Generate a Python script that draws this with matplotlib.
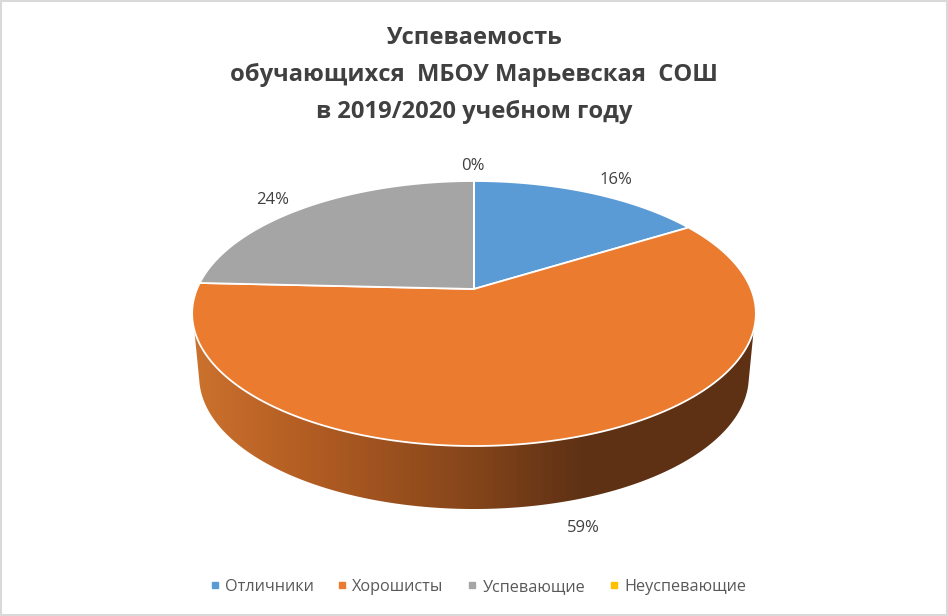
#!/usr/bin/env python3
import numpy as np
import matplotlib
matplotlib.use("Agg")
import matplotlib.pyplot as plt
from matplotlib.colors import LinearSegmentedColormap
from matplotlib.patches import Polygon, Rectangle

# data
categories = ["Отличники", "Хорошисты", "Успевающие", "Неуспевающие"]
values = [16, 59, 24, 0]
value_labels = ["16%", "59%", "24%", "0%"]
title_lines = ["Успеваемость", "обучающихся  МБОУ Марьевская  СОШ", "в 2019/2020 учебном году"]

colors = ["#5b9bd5", "#ea7b2f", "#a5a5a5", "#ffc000"]
text_color = "#595959"
title_color = "#404040"

plt.rcParams['font.family'] = ['Open Sans', 'DejaVu Sans']

fig = plt.figure(figsize=(9.48, 6.16), dpi=100)
ax = fig.add_axes([0, 0, 1, 1])
ax.axis("off")


# tilted circle -> picture, angle clockwise from the top
def rim(angle, scale=1.0, drop=0.0):
    x = np.sin(angle)
    y = np.cos(angle)
    d = 1 + 0.185 * y
    return 474 + scale * 277 * x / d, (289 - 74.5 * y) / d + drop


# side of the pie, gradient along x clipped to the band
side = LinearSegmentedColormap.from_list("side", [
    (0.0, "#cc722e"), (0.2, "#b35d23"), (0.5, "#84451a"),
    (0.62, "#6c3817"), (0.70, "#5e3114"), (1.0, "#5e3114")])
grad = ax.imshow(np.linspace(0, 1, 564).reshape(1, -1), cmap=side, aspect="auto",
                 extent=(192, 756, 520, 300), zorder=1)
t_top = np.radians(np.linspace(107.6, 252.4, 300))
t_low = np.radians(np.linspace(256, 104, 300))
band = np.vstack([np.column_stack(rim(t_top)), np.column_stack(rim(t_low, 0.975, 63))])
clip = Polygon(band, closed=True, transform=ax.transData, facecolor="none", edgecolor="none")
ax.add_patch(clip)
grad.set_clip_path(clip)

ax.set_xlim(0, 948)
ax.set_ylim(616, 0)

# top of the pie
edges = 2 * np.pi * np.cumsum([0] + values) / sum(values)
for i in range(len(values)):
    a = np.linspace(edges[i], edges[i + 1], 200)
    x, y = rim(a)
    pts = np.vstack([[474, 289], np.column_stack([x, y])])
    ax.add_patch(Polygon(pts, closed=True, facecolor=colors[i], edgecolor="white",
                         linewidth=1.3, joinstyle="round", zorder=2))

# value labels
label_pos = [(616, 179.5), (583, 527.5), (273, 199.5), (473, 165.5)]
for s, (x, y) in zip(value_labels, label_pos):
    ax.text(x, y, s, ha="center", va="center", fontsize=12, color="#404040")

# title
for s, y in zip(title_lines, [38.5, 74.5, 112]):
    ax.text(474, y, s, ha="center", va="center", fontsize=17.1, fontweight="bold", color=title_color)

# legend
marker_x = [215, 342, 472.5, 614]
for name, c, x in zip(categories, colors, marker_x):
    ax.plot([x], [585], marker="s", markersize=4.2, color=c, linestyle="none")
    ax.text(x + 10, 585, name, ha="left", va="center_baseline", fontsize=11.7, color=text_color)

ax.add_patch(Rectangle((1, 1), 946, 614, facecolor="none", edgecolor="#d9d9d9", linewidth=1.5))

fig.savefig("out.png", dpi=100)
